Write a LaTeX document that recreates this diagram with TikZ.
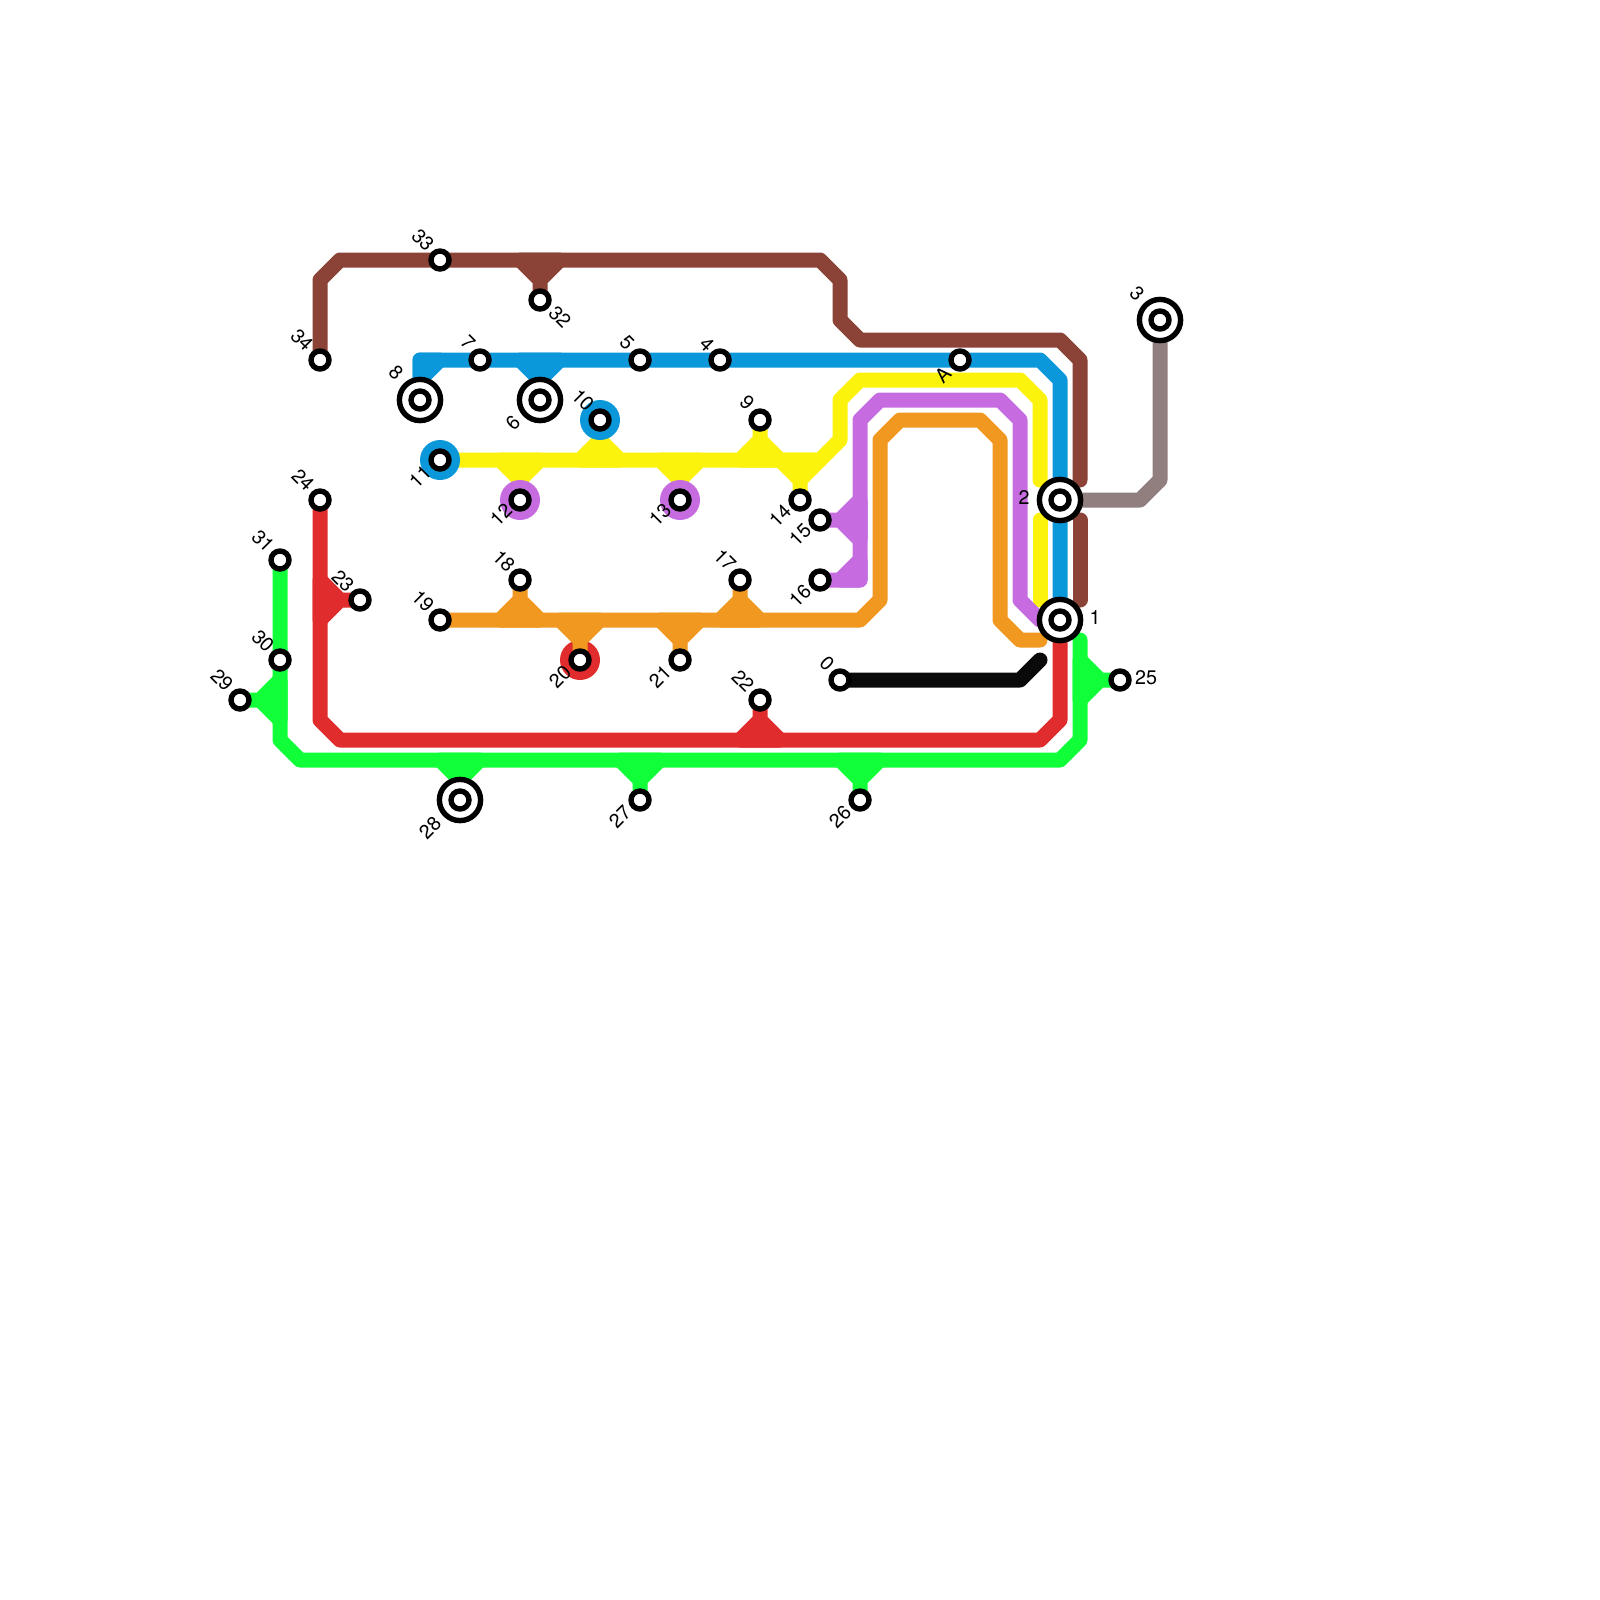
\documentclass[tikz,border=0pt]{standalone}
\usepackage{fontspec}
\setmainfont{TeX Gyre Heros}
\usepackage{xcolor}
\usepackage{tikz}
\usetikzlibrary{backgrounds}
\definecolor{cbrn}{RGB}{139,67,55}
\definecolor{cblu}{RGB}{11,152,218}
\definecolor{cyel}{RGB}{251,243,12}
\definecolor{cpur}{RGB}{198,108,224}
\definecolor{corg}{RGB}{240,152,32}
\definecolor{cred}{RGB}{224,44,44}
\definecolor{cgrn}{RGB}{16,255,56}
\definecolor{cgry}{RGB}{145,127,127}
\definecolor{cblk}{RGB}{10,10,10}

\begin{document}
\begin{tikzpicture}[
  x=5mm,y=-5mm,
  font=\fontsize{14}{16}\selectfont,
  st/.style={circle,draw=black,fill=white,line width=1.35mm,minimum size=4.5mm,inner sep=0,outer sep=0},
  hub/.style={circle,draw=black,fill=white,line width=1.35mm,minimum size=10.3mm,inner sep=0,outer sep=0},
  ring/.style={circle,fill=#1,minimum size=10mm,inner sep=0,outer sep=0},
  ln/.style={draw=#1,line width=3.75mm,line cap=round,line join=round},
  fk/.style={ln=#1,fill=#1},
  nw/.style={rotate=-45,inner sep=0},
  sw/.style={rotate=45,inner sep=0},
  hz/.style={inner sep=0},
]
\useasboundingbox (0,0) rectangle (80,80);
% --- stations ---
\node[st] (s0) at (42,34){};
\node[hub] (s1) at (53,31){}; \node[st] (c1) at (s1){};
\node[hub] (s2) at (53,25){}; \node[st] (c2) at (s2){};
\node[hub] (s3) at (58,16){}; \node[st] (c3) at (s3){};
\node[st] (s4) at (36,18){};
\node[st] (s5) at (32,18){};
\node[hub] (s6) at (27,20){}; \node[st] (c6) at (s6){};
\node[st] (s7) at (24,18){};
\node[hub] (s8) at (21,20){}; \node[st] (c8) at (s8){};
\node[st] (s9) at (38,21){};
\node[st] (s10) at (30,21){};
\node[st] (s11) at (22,23){};
\node[st] (s12) at (26,25){};
\node[st] (s13) at (34,25){};
\node[st] (s14) at (40,25){};
\node[st] (s15) at (41,26){};
\node[st] (s16) at (41,29){};
\node[st] (s17) at (37,29){};
\node[st] (s18) at (26,29){};
\node[st] (s19) at (22,31){};
\node[st] (s20) at (29,33){};
\node[st] (s21) at (34,33){};
\node[st] (s22) at (38,35){};
\node[st] (s23) at (18,30){};
\node[st] (s24) at (16,25){};
\node[st] (s25) at (56,34){};
\node[st] (s26) at (43,40){};
\node[st] (s27) at (32,40){};
\node[hub] (s28) at (23,40){}; \node[st] (c28) at (s28){};
\node[st] (s29) at (12,35){};
\node[st] (s30) at (14,33){};
\node[st] (s31) at (14,28){};
\node[st] (s32) at (27,15){};
\node[st] (s33) at (22,13){};
\node[st] (s34) at (16,18){};
\node[st] (sA) at (48,18){};
% --- free line ends ---
\coordinate (brA) at (54,24); \coordinate (brB) at (54,26); \coordinate (brC) at (54,30);
\coordinate (ylA) at (52,24); \coordinate (ylB) at (52,26); \coordinate (ylC) at (52,30);
\coordinate (ogA) at (52,32); \coordinate (grA) at (54,32); \coordinate (bkA) at (52,33);
% --- lines, under the stations ---
\begin{scope}[on background layer]
  \fill[white] (0,0) rectangle (80,80);
  \draw[ln=cblk] (s0.center)--(51,34)--(bkA);
  % red
  \node[ring=cred] (r20) at (s20){};
  \draw[ln=cred] (s24.center)--(16,36)--(17,37)--(52,37)--(53,36)--(s1.center);
  \draw[fk=cred] (s23.center)--(17,30)--(16,29)--(16,31)--(17,30);
  \draw[fk=cred] (s22.center)--(38,36)--(37,37)--(39,37)--(38,36);
  % green
  \draw[ln=cgrn] (s31.center)--(14,37)--(15,38)--(53,38)--(54,37)--(grA);
  \draw[fk=cgrn] (s25.center)--(55,34)--(54,33)--(54,35)--(55,34);
  \draw[fk=cgrn] (s29.center)--(13,35)--(14,34)--(14,36)--(13,35);
  \draw[fk=cgrn] (s28.center)--(23,39)--(22,38)--(24,38)--(23,39);
  \draw[fk=cgrn] (s27.center)--(32,39)--(31,38)--(33,38)--(32,39);
  \draw[fk=cgrn] (s26.center)--(43,39)--(42,38)--(44,38)--(43,39);
  % brown and grey
  \draw[ln=cbrn] (s34.center)--(16,14)--(17,13)--(41,13)--(42,14)--(42,16)--(43,17)--(53,17)--(54,18)--(brA);
  \draw[ln=cbrn] (brB)--(brC);
  \draw[fk=cbrn] (s32.center)--(27,14)--(26,13)--(28,13)--(27,14);
  \draw[ln=cgry] (s2.center)--(57,25)--(58,24)--(s3.center);
  % orange
  \draw[ln=corg] (s19.center)--(43,31)--(44,30)--(44,22)--(45,21)--(49,21)--(50,22)--(50,31)--(51,32)--(ogA);
  \draw[fk=corg] (s18.center)--(26,30)--(25,31)--(27,31)--(26,30);
  \draw[fk=corg] (s20.center)--(29,32)--(28,31)--(30,31)--(29,32);
  \draw[fk=corg] (s21.center)--(34,32)--(33,31)--(35,31)--(34,32);
  \draw[fk=corg] (s17.center)--(37,30)--(36,31)--(38,31)--(37,30);
  % yellow
  \draw[ln=cyel] (s11.center)--(41,23)--(42,22)--(42,20)--(43,19)--(51,19)--(52,20)--(ylA);
  \draw[ln=cyel] (ylB)--(ylC);
  \draw[fk=cyel] (s12.center)--(26,24)--(25,23)--(27,23)--(26,24);
  \draw[fk=cyel] (s10.center)--(30,22)--(29,23)--(31,23)--(30,22);
  \draw[fk=cyel] (s13.center)--(34,24)--(33,23)--(35,23)--(34,24);
  \draw[fk=cyel] (s9.center)--(38,22)--(37,23)--(39,23)--(38,22);
  \draw[fk=cyel] (s14.center)--(40,24)--(39,23)--(41,23)--(40,24);
  % purple
  \draw[ln=cpur] (s1.center)--(52,31)--(51,30)--(51,21)--(50,20)--(44,20)--(43,21)--(43,29)--(s16.center);
  \draw[fk=cpur] (s15.center)--(42,26)--(43,25)--(43,27)--(42,26);
  \draw[fk=cpur] (43,28)--(43,29)--(42,29)--cycle;
  \node[ring=cpur] (r12) at (s12){};
  \node[ring=cpur] (r13) at (s13){};
  % blue
  \draw[ln=cblu] (s8.center)--(21,18)--(52,18)--(53,19)--(s1.center);
  \draw[fk=cblu] (21,19)--(21,18)--(22,18)--cycle;
  \draw[fk=cblu] (s6.center)--(27,19)--(26,18)--(28,18)--(27,19);
  \node[ring=cblu] (r10) at (s10){};
  \node[ring=cblu] (r11) at (s11){};
\end{scope}
% --- labels ---
\node[nw] (l33) at (21.15,12){33};
\node[nw] (l32) at (28,15.85){32};
\node[nw] (l34) at (15.1,17){34};
\node[nw] (l7) at (23.4,17.15){7};
\node[nw] (l8) at (19.8,18.65){8};
\node[sw] (l6) at (25.65,21.15){6};
\node[nw] (l10) at (29.15,20){10};
\node[sw] (l11) at (21,23.85){11};
\node[sw] (l12) at (25.05,25.75){12};
\node[nw] (l24) at (15.15,24){24};
\node[nw] (l31) at (13.15,27.05){31};
\node[nw] (l9) at (37.35,20.15){9};
\node[nw] (l5) at (31.35,17.15){5};
\node[nw] (l4) at (35.35,17.2){4};
\node[sw] (lA) at (47.15,18.75){A};
\node[sw] (l13) at (33,25.75){13};
\node[sw] (l14) at (39,25.8){14};
\node[sw] (l15) at (40,26.75){15};
\node[hz] (l2) at (51.2,24.9){2};
\node[hz] (l1) at (54.75,30.9){1};
\node[hz] (l25) at (57.3,33.9){25};
\node[nw] (l3) at (56.85,14.7){3};
\node[nw] (l23) at (17.15,29.05){23};
\node[nw] (l18) at (25.2,28.05){18};
\node[nw] (l19) at (21.15,30.05){19};
\node[nw] (l30) at (13.15,32.05){30};
\node[nw] (l29) at (11.1,34){29};
\node[sw] (l20) at (28,33.85){20};
\node[sw] (l28) at (21.5,41.4){28};
\node[nw] (l17) at (36.25,28){17};
\node[sw] (l16) at (40,29.8){16};
\node[sw] (l21) at (33,33.85){21};
\node[nw] (l22) at (37.15,34.05){22};
\node[nw] (l0) at (41.35,33.2){0};
\node[sw] (l27) at (31,40.85){27};
\node[sw] (l26) at (42,40.85){26};
\end{tikzpicture}
\end{document}
